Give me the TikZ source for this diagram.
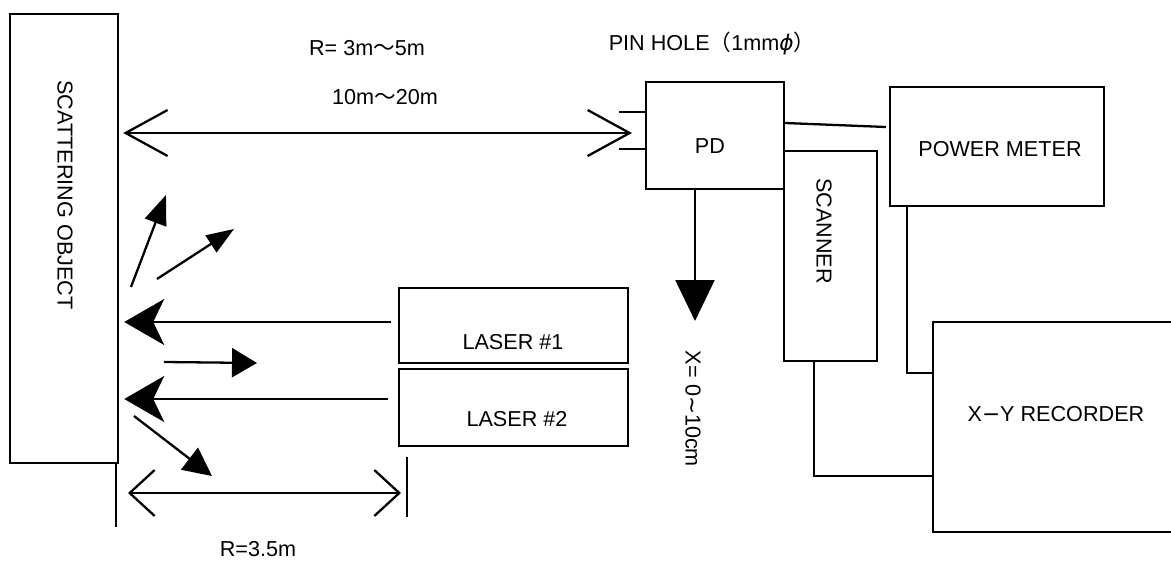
\documentclass[tikz,border=0pt]{standalone}
\usepackage{fontspec}
\setmainfont{Liberation Sans}
\newfontfamily\cjk{Noto Sans CJK JP}
\newfontfamily\symfont{DejaVu Sans}
\usetikzlibrary{arrows.meta,calc}

\tikzset{
  device/.style={draw, line width=1.4pt, inner sep=0pt},
  lbl/.style={font=\fontsize{12.3}{14}\selectfont, inner sep=1pt},
  wire/.style={line width=1.3pt},
  beam/.style={line width=1.3pt, -{Stealth[length=0.8cm, width=0.92cm, inset=0.22cm]}},
  span/.style={line width=1.3pt, {Straight Barb[length=0.84cm, width=0.92cm]}-{Straight Barb[length=0.84cm, width=0.92cm]}},
  shortspan/.style={line width=1.3pt, {Straight Barb[length=0.5cm, width=0.92cm]}-{Straight Barb[length=0.5cm, width=0.92cm]}},
}

\begin{document}
\begin{tikzpicture}[x=0.02cm, y=-0.02cm, line cap=butt, line join=miter]
\useasboundingbox (0,0) rectangle (1171,561);

% boxes
\node[device, minimum width=2.16cm, minimum height=8.98cm] (scat) at (64,238.5) {};
\node[device, minimum width=2.76cm, minimum height=2.14cm] (pd) at (715,135.5) {};
\node[device, minimum width=4.28cm, minimum height=2.38cm] (pm) at (997,146.5) {};
\node[device, minimum width=1.86cm, minimum height=4.20cm] (scan) at (830.5,256) {};
\node[device, minimum width=4.58cm, minimum height=1.50cm] (las1) at (513.5,325.5) {};
\node[device, minimum width=4.58cm, minimum height=1.54cm] (las2) at (513.5,407.5) {};
\node[device, minimum width=5.04cm, minimum height=4.20cm] (xy) at (1059,427) {};

% labels
\node[lbl, rotate=-90] (scatlbl) at (65,195) {SCATTERING OBJECT};
\node[lbl] (pdlbl) at (710,146) {PD};
\node[lbl] (pmlbl) at (1000,149) {POWER METER};
\node[lbl, rotate=-90] (scanlbl) at (824,231) {SCANNER};
\node[lbl] (las1lbl) at (513,342) {LASER \#1};
\node[lbl] (las2lbl) at (517,419) {LASER \#2};
\node[lbl] (xylbl) at (1056,414) {X{\symfont −}Y RECORDER};
\node[lbl] (rnear) at (367,48) {R= 3m{\cjk ～}5m};
\node[lbl] (rfar) at (385,97) {10m{\cjk ～}20m};
\node[lbl] (pinlbl) at (712,43) {PIN HOLE{\cjk （}1mm{\symfont\itshape ϕ}{\cjk ）}};
\node[lbl, rotate=-90] (xlbl) at (693,409) {X= 0{\symfont ∼}10cm};
\node[lbl, inner sep=0pt] (rlaser) at (258,549) {R=3.5m};

% free ends
\coordinate (pinhole) at (632,133);
\coordinate (pmend) at (886,127);
\coordinate (xend) at (695,321);
\coordinate (tickTop) at (407,457);
\coordinate (tickBot) at (407,517);
\coordinate (baseBot) at (116,527);

% range between object and pin hole
\draw[span, shorten <=0.08cm] (scat.east |- pinhole) -- (pinhole);
\draw[wire] (pd.west |- 0,112) -- ++(-26,0);
\draw[wire] (pd.west |- 0,149) -- ++(-26,0);

% detector side wiring
\draw[wire] (pd.east |- 0,123) -- (pmend);
\draw[wire] (pm.south -| 907,0) |- (xy.west |- 0,373);
\draw[wire] (scan.south -| 814,0) |- (xy.west |- 0,476);
\draw[wire, -{Triangle[length=0.82cm, width=0.78cm]}] (pd.south -| xend) -- (xend);

% laser beams
\draw[beam, shorten <=0.14cm, shorten >=0.1cm] (las1.west |- 0,322) -- (scat.east |- 0,322);
\draw[beam, shorten <=0.2cm, shorten >=0.1cm] (las2.west |- 0,399) -- (scat.east |- 0,399);

% scattered light
\foreach \xa/\ya/\xb/\yb/\hl/\hw in {131/287/166/195/0.59/0.45, 157/279/234/229/0.55/0.40, 164/362/257/363/0.50/0.58, 134/416/212/476/0.57/0.55}{
  \draw[wire, -{Triangle[length=\hl cm, width=\hw cm]}] (\xa,\ya) -- (\xb,\yb);
}

% laser distance
\draw[wire] (scat.south -| baseBot) -- (baseBot);
\draw[line width=0.7pt] (tickTop) -- (tickBot);
\draw[shortspan, shorten <=0.24cm, shorten >=0.12cm] (baseBot |- 0,493) -- (tickTop |- 0,493);

\end{tikzpicture}
\end{document}
